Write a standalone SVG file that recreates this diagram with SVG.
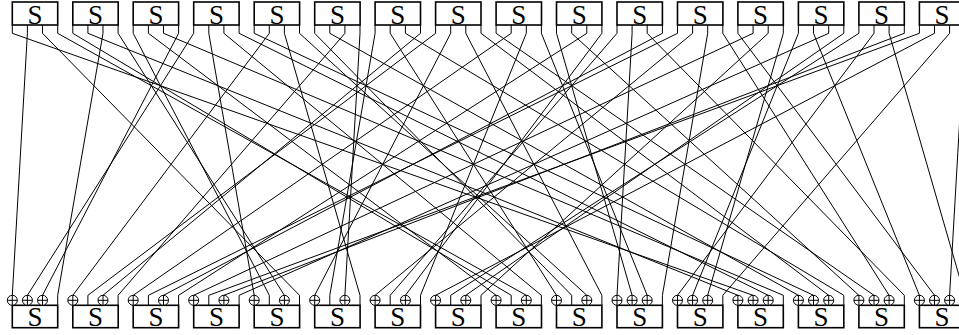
<svg xmlns="http://www.w3.org/2000/svg" xmlns:xlink="http://www.w3.org/1999/xlink" width="959" height="335" viewBox="0 0 959 335">
<style>
.box{fill:#fff;stroke:#000;stroke-width:1.6}
.lbl{font-family:"Liberation Serif","DejaVu Serif",serif;font-size:27px;text-anchor:middle;fill:#000}
.wire{fill:none;stroke:#000;stroke-width:1}
.xr{fill:#fff;stroke:#000;stroke-width:1}
</style>
<defs>
<g id="xor"><circle class="xr" r="5"/><path d="M-5 0H5M0 -5V5" class="wire"/></g>
</defs>
<rect width="959" height="335" fill="#fff"/>
<g id="connectors" class="wire">
<path d="M12.3 25V33.3L753.1 295.3"/>
<path d="M27.4 25V33.3L12.3 295.3"/>
<path d="M42.5 25V33.3L299.5 295.3V305.3"/>
<path d="M57.7 25V33.3L526.3 295.3"/>
<path d="M72.8 25V33.3L511.2 295.3V305.3"/>
<path d="M87.9 25V33.3L737.9 295.3"/>
<path d="M103.0 25V33.3L57.7 295.3V305.3"/>
<path d="M118.1 25V33.3L284.4 295.3"/>
<path d="M133.2 25V33.3L269.3 295.3V305.3"/>
<path d="M148.4 25V33.3L496.1 295.3"/>
<path d="M163.5 25V33.3L783.3 295.3V305.3"/>
<path d="M178.6 25V33.3L42.5 295.3"/>
<path d="M193.7 25V33.3L27.4 295.3"/>
<path d="M208.8 25V33.3L254.2 295.3"/>
<path d="M223.9 25V33.3L541.4 295.3V305.3"/>
<path d="M239.1 25V33.3L768.2 295.3"/>
<path d="M254.2 25V33.3L813.5 295.3"/>
<path d="M269.3 25V33.3L72.8 295.3"/>
<path d="M284.4 25V33.3L360.0 295.3V305.3"/>
<path d="M299.5 25V33.3L586.8 295.3"/>
<path d="M314.7 25V33.3L571.7 295.3V305.3"/>
<path d="M329.8 25V33.3L798.4 295.3"/>
<path d="M344.9 25V33.3L118.1 295.3V305.3"/>
<path d="M360.0 25V33.3L344.9 295.3"/>
<path d="M375.1 25V33.3L329.8 295.3V305.3"/>
<path d="M390.2 25V33.3L556.5 295.3"/>
<path d="M405.4 25V33.3L843.8 295.3V305.3"/>
<path d="M420.5 25V33.3L103.0 295.3"/>
<path d="M435.6 25V33.3L87.9 295.3V305.3"/>
<path d="M450.7 25V33.3L314.7 295.3"/>
<path d="M465.8 25V33.3L601.9 295.3V305.3"/>
<path d="M481.0 25V33.3L828.7 295.3"/>
<path d="M496.1 25V33.3L874.0 295.3"/>
<path d="M511.2 25V33.3L133.2 295.3"/>
<path d="M526.3 25V33.3L420.5 295.3V305.3"/>
<path d="M541.4 25V33.3L647.2 295.3"/>
<path d="M556.5 25V33.3L632.1 295.3"/>
<path d="M571.7 25V33.3L858.9 295.3"/>
<path d="M586.8 25V33.3L178.6 295.3V305.3"/>
<path d="M601.9 25V33.3L405.4 295.3"/>
<path d="M617.0 25V33.3L390.2 295.3V305.3"/>
<path d="M632.1 25V33.3L617.0 295.3"/>
<path d="M647.2 25V33.3L904.3 295.3V305.3"/>
<path d="M662.4 25V33.3L163.5 295.3"/>
<path d="M677.5 25V33.3L148.4 295.3V305.3"/>
<path d="M692.6 25V33.3L375.1 295.3"/>
<path d="M707.7 25V33.3L662.4 295.3V305.3"/>
<path d="M722.8 25V33.3L889.1 295.3"/>
<path d="M737.9 25V33.3L934.5 295.3"/>
<path d="M753.1 25V33.3L193.7 295.3"/>
<path d="M768.2 25V33.3L481.0 295.3V305.3"/>
<path d="M783.3 25V33.3L707.7 295.3"/>
<path d="M798.4 25V33.3L692.6 295.3"/>
<path d="M813.5 25V33.3L919.4 295.3"/>
<path d="M828.7 25V33.3L239.1 295.3V305.3"/>
<path d="M843.8 25V33.3L465.8 295.3"/>
<path d="M858.9 25V33.3L450.7 295.3V305.3"/>
<path d="M874.0 25V33.3L677.5 295.3"/>
<path d="M889.1 25V33.3L964.7 295.3V305.3"/>
<path d="M904.3 25V33.3L223.9 295.3"/>
<path d="M919.4 25V33.3L208.8 295.3V305.3"/>
<path d="M934.5 25V33.3L435.6 295.3"/>
<path d="M949.6 25V33.3L722.8 295.3V305.3"/>
<path d="M964.7 25V33.3L949.6 295.3"/>
</g>
<g id="top-sboxes">
<g id="top0"><rect class="box" x="12.3" y="2" width="45.4" height="23"/><text class="lbl" x="35" y="23.6">S</text></g>
<g id="top1"><rect class="box" x="72.8" y="2" width="45.4" height="23"/><text class="lbl" x="95.5" y="23.6">S</text></g>
<g id="top2"><rect class="box" x="133.2" y="2" width="45.4" height="23"/><text class="lbl" x="155.9" y="23.6">S</text></g>
<g id="top3"><rect class="box" x="193.7" y="2" width="45.4" height="23"/><text class="lbl" x="216.4" y="23.6">S</text></g>
<g id="top4"><rect class="box" x="254.2" y="2" width="45.4" height="23"/><text class="lbl" x="276.9" y="23.6">S</text></g>
<g id="top5"><rect class="box" x="314.7" y="2" width="45.4" height="23"/><text class="lbl" x="337.4" y="23.6">S</text></g>
<g id="top6"><rect class="box" x="375.1" y="2" width="45.4" height="23"/><text class="lbl" x="397.8" y="23.6">S</text></g>
<g id="top7"><rect class="box" x="435.6" y="2" width="45.4" height="23"/><text class="lbl" x="458.3" y="23.6">S</text></g>
<g id="top8"><rect class="box" x="496.1" y="2" width="45.4" height="23"/><text class="lbl" x="518.8" y="23.6">S</text></g>
<g id="top9"><rect class="box" x="556.5" y="2" width="45.4" height="23"/><text class="lbl" x="579.2" y="23.6">S</text></g>
<g id="top10"><rect class="box" x="617.0" y="2" width="45.4" height="23"/><text class="lbl" x="639.7" y="23.6">S</text></g>
<g id="top11"><rect class="box" x="677.5" y="2" width="45.4" height="23"/><text class="lbl" x="700.2" y="23.6">S</text></g>
<g id="top12"><rect class="box" x="737.9" y="2" width="45.4" height="23"/><text class="lbl" x="760.6" y="23.6">S</text></g>
<g id="top13"><rect class="box" x="798.4" y="2" width="45.4" height="23"/><text class="lbl" x="821.1" y="23.6">S</text></g>
<g id="top14"><rect class="box" x="858.9" y="2" width="45.4" height="23"/><text class="lbl" x="881.6" y="23.6">S</text></g>
<g id="top15"><rect class="box" x="919.4" y="2" width="45.4" height="23"/><text class="lbl" x="942.1" y="23.6">S</text></g>
</g>
<g id="bottom-sboxes">
<g id="bot0"><rect class="box" x="12.3" y="305.3" width="45.4" height="22.4"/><text class="lbl" x="35" y="326">S</text></g>
<g id="bot1"><rect class="box" x="72.8" y="305.3" width="45.4" height="22.4"/><text class="lbl" x="95.5" y="326">S</text></g>
<g id="bot2"><rect class="box" x="133.2" y="305.3" width="45.4" height="22.4"/><text class="lbl" x="155.9" y="326">S</text></g>
<g id="bot3"><rect class="box" x="193.7" y="305.3" width="45.4" height="22.4"/><text class="lbl" x="216.4" y="326">S</text></g>
<g id="bot4"><rect class="box" x="254.2" y="305.3" width="45.4" height="22.4"/><text class="lbl" x="276.9" y="326">S</text></g>
<g id="bot5"><rect class="box" x="314.7" y="305.3" width="45.4" height="22.4"/><text class="lbl" x="337.4" y="326">S</text></g>
<g id="bot6"><rect class="box" x="375.1" y="305.3" width="45.4" height="22.4"/><text class="lbl" x="397.8" y="326">S</text></g>
<g id="bot7"><rect class="box" x="435.6" y="305.3" width="45.4" height="22.4"/><text class="lbl" x="458.3" y="326">S</text></g>
<g id="bot8"><rect class="box" x="496.1" y="305.3" width="45.4" height="22.4"/><text class="lbl" x="518.8" y="326">S</text></g>
<g id="bot9"><rect class="box" x="556.5" y="305.3" width="45.4" height="22.4"/><text class="lbl" x="579.2" y="326">S</text></g>
<g id="bot10"><rect class="box" x="617.0" y="305.3" width="45.4" height="22.4"/><text class="lbl" x="639.7" y="326">S</text></g>
<g id="bot11"><rect class="box" x="677.5" y="305.3" width="45.4" height="22.4"/><text class="lbl" x="700.2" y="326">S</text></g>
<g id="bot12"><rect class="box" x="737.9" y="305.3" width="45.4" height="22.4"/><text class="lbl" x="760.6" y="326">S</text></g>
<g id="bot13"><rect class="box" x="798.4" y="305.3" width="45.4" height="22.4"/><text class="lbl" x="821.1" y="326">S</text></g>
<g id="bot14"><rect class="box" x="858.9" y="305.3" width="45.4" height="22.4"/><text class="lbl" x="881.6" y="326">S</text></g>
<g id="bot15"><rect class="box" x="919.4" y="305.3" width="45.4" height="22.4"/><text class="lbl" x="942.1" y="326">S</text></g>
</g>
<g id="xors">
<use id="xor0a" xlink:href="#xor" x="12.3" y="300.3"/><use id="xor0b" xlink:href="#xor" x="27.4" y="300.3"/><use id="xor0c" xlink:href="#xor" x="42.5" y="300.3"/>
<use id="xor1a" xlink:href="#xor" x="72.8" y="300.3"/><use id="xor1c" xlink:href="#xor" x="103.0" y="300.3"/>
<use id="xor2a" xlink:href="#xor" x="133.2" y="300.3"/><use id="xor2c" xlink:href="#xor" x="163.5" y="300.3"/>
<use id="xor3a" xlink:href="#xor" x="193.7" y="300.3"/><use id="xor3c" xlink:href="#xor" x="223.9" y="300.3"/>
<use id="xor4a" xlink:href="#xor" x="254.2" y="300.3"/><use id="xor4c" xlink:href="#xor" x="284.4" y="300.3"/>
<use id="xor5a" xlink:href="#xor" x="314.7" y="300.3"/><use id="xor5c" xlink:href="#xor" x="344.9" y="300.3"/>
<use id="xor6a" xlink:href="#xor" x="375.1" y="300.3"/><use id="xor6c" xlink:href="#xor" x="405.4" y="300.3"/>
<use id="xor7a" xlink:href="#xor" x="435.6" y="300.3"/><use id="xor7c" xlink:href="#xor" x="465.8" y="300.3"/>
<use id="xor8a" xlink:href="#xor" x="496.1" y="300.3"/><use id="xor8c" xlink:href="#xor" x="526.3" y="300.3"/>
<use id="xor9a" xlink:href="#xor" x="556.5" y="300.3"/><use id="xor9c" xlink:href="#xor" x="586.8" y="300.3"/>
<use id="xor10a" xlink:href="#xor" x="617.0" y="300.3"/><use id="xor10b" xlink:href="#xor" x="632.1" y="300.3"/><use id="xor10c" xlink:href="#xor" x="647.2" y="300.3"/>
<use id="xor11a" xlink:href="#xor" x="677.5" y="300.3"/><use id="xor11b" xlink:href="#xor" x="692.6" y="300.3"/><use id="xor11c" xlink:href="#xor" x="707.7" y="300.3"/>
<use id="xor12a" xlink:href="#xor" x="737.9" y="300.3"/><use id="xor12b" xlink:href="#xor" x="753.1" y="300.3"/><use id="xor12c" xlink:href="#xor" x="768.2" y="300.3"/>
<use id="xor13a" xlink:href="#xor" x="798.4" y="300.3"/><use id="xor13b" xlink:href="#xor" x="813.5" y="300.3"/><use id="xor13c" xlink:href="#xor" x="828.7" y="300.3"/>
<use id="xor14a" xlink:href="#xor" x="858.9" y="300.3"/><use id="xor14b" xlink:href="#xor" x="874.0" y="300.3"/><use id="xor14c" xlink:href="#xor" x="889.1" y="300.3"/>
<use id="xor15a" xlink:href="#xor" x="919.4" y="300.3"/><use id="xor15b" xlink:href="#xor" x="934.5" y="300.3"/><use id="xor15c" xlink:href="#xor" x="949.6" y="300.3"/>
</g>
</svg>
